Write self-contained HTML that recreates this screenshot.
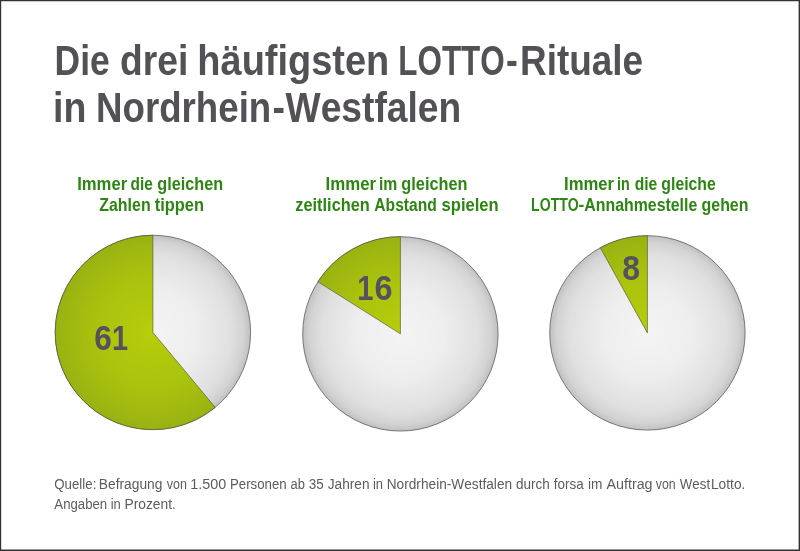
<!DOCTYPE html>
<html lang="de">
<head>
<meta charset="utf-8">
<title>Die drei häufigsten LOTTO-Rituale in Nordrhein-Westfalen</title>
<style>
html,body{margin:0;padding:0;background:#fff;}
body{width:800px;height:551px;overflow:hidden;position:relative;font-family:"Liberation Sans",sans-serif;}
svg{position:absolute;left:0;top:0;display:block;}
text{font-family:"Liberation Sans",sans-serif;font-kerning:none;white-space:pre;}
.t{font-weight:bold;fill:#535155;}
.g{font-weight:bold;fill:#2c8611;}
.n{font-weight:bold;fill:#56525c;}
.s{font-weight:normal;fill:#5c5c5f;}
</style>
</head>
<body>
<svg width="800" height="551" viewBox="0 0 800 551">
<defs>
<radialGradient id="gy1" gradientUnits="userSpaceOnUse" cx="152.9" cy="332.45" r="97.3"><stop offset="0" stop-color="#f4f4f4"/><stop offset="0.45" stop-color="#eeeeee"/><stop offset="0.8" stop-color="#e0e0e0"/><stop offset="0.93" stop-color="#d3d3d3"/><stop offset="1" stop-color="#c1c1c1"/></radialGradient>
<radialGradient id="gn1" gradientUnits="userSpaceOnUse" cx="152.9" cy="332.45" r="97.3"><stop offset="0" stop-color="#b6ce0a"/><stop offset="0.6" stop-color="#a9c20e"/><stop offset="1" stop-color="#9ab212"/></radialGradient>
<radialGradient id="gy2" gradientUnits="userSpaceOnUse" cx="400.4" cy="333.85" r="97.3"><stop offset="0" stop-color="#f4f4f4"/><stop offset="0.45" stop-color="#eeeeee"/><stop offset="0.8" stop-color="#e0e0e0"/><stop offset="0.93" stop-color="#d3d3d3"/><stop offset="1" stop-color="#c1c1c1"/></radialGradient>
<radialGradient id="gn2" gradientUnits="userSpaceOnUse" cx="400.4" cy="333.85" r="97.3"><stop offset="0" stop-color="#b6ce0a"/><stop offset="0.6" stop-color="#a9c20e"/><stop offset="1" stop-color="#9ab212"/></radialGradient>
<radialGradient id="gy3" gradientUnits="userSpaceOnUse" cx="647.4" cy="332.9" r="97.3"><stop offset="0" stop-color="#f4f4f4"/><stop offset="0.45" stop-color="#eeeeee"/><stop offset="0.8" stop-color="#e0e0e0"/><stop offset="0.93" stop-color="#d3d3d3"/><stop offset="1" stop-color="#c1c1c1"/></radialGradient>
<radialGradient id="gn3" gradientUnits="userSpaceOnUse" cx="647.4" cy="332.9" r="97.3"><stop offset="0" stop-color="#b6ce0a"/><stop offset="0.6" stop-color="#a9c20e"/><stop offset="1" stop-color="#9ab212"/></radialGradient>
</defs>
<rect x="0" y="0" width="800" height="551" fill="#fff"/>
<!-- frame -->
<path d="M0,0H800V551H0Z M1.2,1.2V549.6H798.6V1.2Z" fill="#333" fill-rule="evenodd"/>
<!-- title -->
<g><text class="t" font-size="42.5" transform="translate(54.53 74.6) scale(0.8344 1)">Die</text> <text class="t" font-size="42.5" transform="translate(119.97 74.6) scale(0.8758 1)">drei</text> <text class="t" font-size="42.5" transform="translate(197.35 74.6) scale(0.8931 1)">häufigsten</text> <text class="t" font-size="42.5" transform="translate(398.23 74.6) scale(0.7400 1)">LOTTO</text><text class="t" font-size="42.5" transform="translate(506.12 74.6) scale(0.8340 1)">-</text><text class="t" font-size="42.5" transform="translate(520.03 74.6) scale(0.8690 1)">Rituale</text></g>
<g><text class="t" font-size="42.5" transform="translate(52.98 121.5) scale(0.8829 1)">in</text> <text class="t" font-size="42.5" transform="translate(96.05 121.5) scale(0.8629 1)">Nordrhein</text><text class="t" font-size="42.5" transform="translate(272.54 121.5) scale(0.8804 1)">-</text><text class="t" font-size="42.5" transform="translate(285.56 121.5) scale(0.8755 1)">Westfalen</text></g>
<!-- pies -->
<ellipse cx="152.9" cy="332.45" rx="97.7" ry="97.2" fill="url(#gy1)" stroke="#55555a" stroke-width="0.75"/>
<path d="M152.90,332.45 L152.90,235.25 A97.7,97.2 0 1 0 215.18,407.34 Z" fill="url(#gn1)" stroke="#505530" stroke-width="0.65"/>
<ellipse cx="400.4" cy="333.85" rx="97.7" ry="97.2" fill="url(#gy2)" stroke="#55555a" stroke-width="0.75"/>
<path d="M400.40,333.85 L400.40,236.65 A97.7,97.2 0 0 0 317.91,281.77 Z" fill="url(#gn2)" stroke="#505530" stroke-width="0.65"/>
<ellipse cx="647.4" cy="332.9" rx="97.7" ry="97.2" fill="url(#gy3)" stroke="#55555a" stroke-width="0.75"/>
<path d="M647.40,332.90 L647.40,235.70 A97.7,97.2 0 0 0 600.33,247.72 Z" fill="url(#gn3)" stroke="#505530" stroke-width="0.65"/>
<!-- labels -->
<g><text class="g" font-size="17.6" transform="translate(77.18 189.5) scale(0.9478 1)">Immer</text> <text class="g" font-size="17.6" transform="translate(130.62 189.5) scale(0.8732 1)">die</text> <text class="g" font-size="17.6" transform="translate(157.33 189.5) scale(0.9226 1)">gleichen</text></g>
<g><text class="g" font-size="17.6" transform="translate(99.27 210.95) scale(0.9065 1)">Zahlen</text> <text class="g" font-size="17.6" transform="translate(154.80 210.95) scale(0.9323 1)">tippen</text></g>
<g><text class="g" font-size="17.6" transform="translate(325.62 189.5) scale(0.9566 1)">Immer</text> <text class="g" font-size="17.6" transform="translate(378.90 189.5) scale(0.8947 1)">im</text> <text class="g" font-size="17.6" transform="translate(401.33 189.5) scale(0.9269 1)">gleichen</text></g>
<g><text class="g" font-size="17.6" transform="translate(295.35 210.95) scale(0.9279 1)">zeitlichen</text> <text class="g" font-size="17.6" transform="translate(374.36 210.95) scale(0.8866 1)">Abstand</text> <text class="g" font-size="17.6" transform="translate(441.62 210.95) scale(0.9417 1)">spielen</text></g>
<g><text class="g" font-size="17.6" transform="translate(564.08 189.5) scale(0.9478 1)">Immer</text> <text class="g" font-size="17.6" transform="translate(617.00 189.5) scale(0.8108 1)">in</text> <text class="g" font-size="17.6" transform="translate(634.66 189.5) scale(0.8898 1)">die</text> <text class="g" font-size="17.6" transform="translate(661.35 189.5) scale(0.8976 1)">gleiche</text></g>
<g><text class="g" font-size="17.6" transform="translate(531.12 210.95) scale(0.8000 1)">LOTTO</text><text class="g" font-size="17.6" transform="translate(578.39 210.95) scale(0.9800 1)">-</text><text class="g" font-size="17.6" transform="translate(584.30 210.95) scale(0.9029 1)">Annahmestelle</text> <text class="g" font-size="17.6" transform="translate(701.55 210.95) scale(0.9057 1)">gehen</text></g>
<!-- numbers -->
<g><text class="n" font-size="35.3" transform="translate(94.34 350.45) scale(0.8966 1)">6</text><text class="n" font-size="35.3" transform="translate(112.04 350.45) scale(0.8200 1)">1</text></g>
<g><text class="n" font-size="35.3" transform="translate(357.17 299.7) scale(0.8219 1)">1</text><text class="n" font-size="35.3" transform="translate(374.61 299.7) scale(0.9201 1)">6</text></g>
<g><text class="n" font-size="35.6" transform="translate(622.18 280.3) scale(0.8991 1)">8</text></g>
<!-- source -->
<g><text class="s" font-size="15" transform="translate(54.27 488.5) scale(0.8857 1)">Quelle:</text> <text class="s" font-size="15" transform="translate(98.77 488.5) scale(0.9213 1)">Befragung</text> <text class="s" font-size="15" transform="translate(166.86 488.5) scale(0.8312 1)">von</text> <text class="s" font-size="15" transform="translate(190.30 488.5) scale(0.9621 1)">1.500</text> <text class="s" font-size="15" transform="translate(230.01 488.5) scale(0.8838 1)">Personen</text> <text class="s" font-size="15" transform="translate(290.55 488.5) scale(0.8627 1)">ab</text> <text class="s" font-size="15" transform="translate(308.69 488.5) scale(0.8977 1)">35</text> <text class="s" font-size="15" transform="translate(327.79 488.5) scale(0.9092 1)">Jahren</text> <text class="s" font-size="15" transform="translate(372.98 488.5) scale(0.8662 1)">in</text> <text class="s" font-size="15" transform="translate(386.73 488.5) scale(0.9124 1)">Nordrhein-Westfalen</text> <text class="s" font-size="15" transform="translate(516.03 488.5) scale(0.9021 1)">durch</text> <text class="s" font-size="15" transform="translate(553.81 488.5) scale(0.8978 1)">forsa</text> <text class="s" font-size="15" transform="translate(588.09 488.5) scale(0.9107 1)">im</text> <text class="s" font-size="15" transform="translate(606.47 488.5) scale(0.9532 1)">Auftrag</text> <text class="s" font-size="15" transform="translate(655.86 488.5) scale(0.8204 1)">von</text> <text class="s" font-size="15" transform="translate(679.84 488.5) scale(0.8855 1)">West</text><text class="s" font-size="15" transform="translate(710.97 488.5) scale(0.9161 1)">Lotto.</text></g>
<g><text class="s" font-size="15" transform="translate(54.37 508.8) scale(0.8797 1)">Angaben</text> <text class="s" font-size="15" transform="translate(110.73 508.8) scale(0.8662 1)">in</text> <text class="s" font-size="15" transform="translate(124.47 508.8) scale(0.9200 1)">Prozent.</text></g>
</svg>
</body>
</html>
